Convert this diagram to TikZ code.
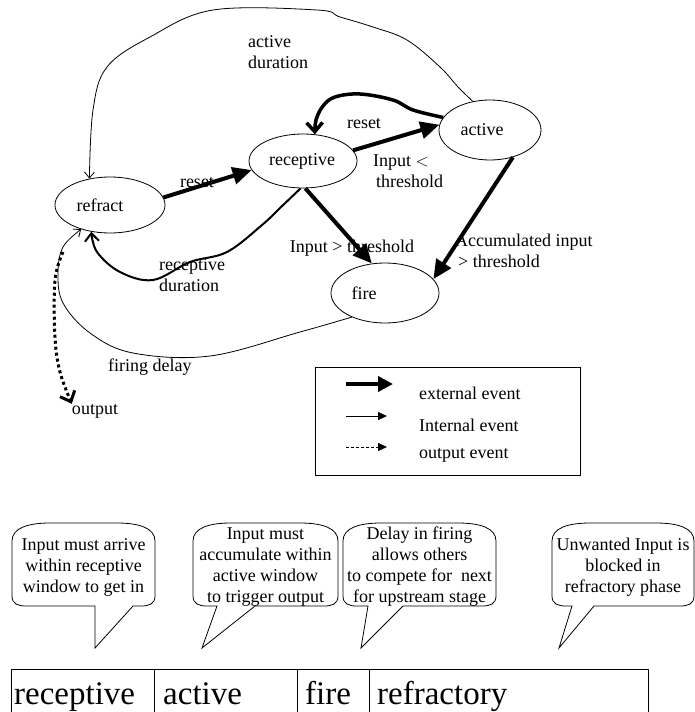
\documentclass[tikz,border=0pt]{standalone}
\usepackage{fontspec}
\setmainfont{Liberation Serif}
\usetikzlibrary{arrows.meta,shapes.geometric}

% speech bubble: left, right, top, bottom, tail base left x, tail base right x, tip x, tip y
\newcommand{\speechbubble}[8]{%
  \draw[bubbleline] (#1,#4-10) -- (#1,#3+18)
    .. controls (#1,#3+5) and (#1+16,#3) .. (#1+38,#3) -- (#2-38,#3)
    .. controls (#2-16,#3) and (#2,#3+5) .. (#2,#3+18) -- (#2,#4-10)
    .. controls (#2,#4-2) and (#2-6,#4) .. (#2-14,#4) -- (#6,#4) -- (#7,#8) -- (#5,#4)
    -- (#1+14,#4) .. controls (#1+6,#4) and (#1,#4-2) .. (#1,#4-10) -- cycle;}

\begin{document}
\begin{tikzpicture}[x=1pt,y=-1pt,
  every node/.style={font=\fontsize{18}{21}\selectfont, inner sep=0pt},
  state/.style={draw, ellipse, line width=0.8pt},
  extarrow/.style={line width=4pt, -{Triangle[length=19pt,width=17pt]}},
  backarrow/.style={line width=3.5pt, -{Straight Barb[length=9pt,width=16pt]}},
  durarrow/.style={line width=2pt, -{Straight Barb[length=8pt,width=14pt]}},
  intarrow/.style={line width=0.8pt, -{Straight Barb[length=6pt,width=10pt]}},
  outarrow/.style={line width=3pt, dash pattern=on 3pt off 3pt, -{Straight Barb[length=9pt,width=16pt]}},
  keyext/.style={line width=4pt, -{Triangle[length=15pt,width=15pt]}},
  keyint/.style={line width=1pt, -{Triangle[length=9pt,width=8pt]}},
  keyout/.style={line width=1pt, dash pattern=on 3pt off 2pt, -{Triangle[length=9pt,width=8pt]}},
  bubbleline/.style={line width=0.8pt},
  celltext/.style={font=\fontsize{33}{36}\selectfont, anchor=base west},
]
\useasboundingbox (0,0) rectangle (695,712);

% states
\node[state, minimum width=110pt, minimum height=56pt] (refract) at (110,205) {};
\node[state, minimum width=108pt, minimum height=54pt] (receptive) at (303,161) {};
\node[state, minimum width=102pt, minimum height=60pt] (active) at (490,130) {};
\node[state, minimum width=108pt, minimum height=60pt] (fire) at (385,293) {};
\node (refracttxt) at (100,205) {refract};
\node (receptivetxt) at (302,161) {receptive};
\node (activetxt) at (482,130) {active};
\node (firetxt) at (364,293) {fire};

% external events
\draw[extarrow] (refract.8) -- (receptive.190);
\draw[extarrow] (receptive.12) -- (active.174);
\draw[extarrow] (receptive.-85) -- (fire.114);
\draw[extarrow] (active.-50) -- (fire.16);
\draw[backarrow] plot[smooth, tension=0.6] coordinates
  {(active.165) (413,110) (393,100) (360,94) (335,97) (323,106) (316,120) (receptive.66)};

% internal events
\draw[durarrow] plot[smooth, tension=0.6] coordinates
  {(receptive.-95) (280,208) (262,225) (227,252) (190,262) (153,280) (120,272) (97,252) (refract.-125)};
\draw[intarrow] plot[smooth, tension=0.6] coordinates
  {(active.121) (458,87) (440,67) (407,40) (373,27) (340,17) (317,10) (213,10) (150,37) (107,67) (93,110) (refract.128)};
\draw[intarrow] plot[smooth, tension=0.6] coordinates
  {(fire.-144) (300,332) (210,356) (133,353) (90,333) (63,303) (58,273) (63,247) (refract.-140)};

% output event
\node (output) at (95,411) {output};
\coordinate (outstart) at (63,252);
\draw[outarrow] plot[smooth, tension=0.6] coordinates
  {(outstart) (55,280) (55,337) (60,372) (output.north west)};

% transition labels
\node[anchor=west, align=left] (lblactdur) at (248,52.5) {active\\duration};
\node (lblreset1) at (197,183) {reset};
\node (lblreset2) at (364,124) {reset};
\node[anchor=west, align=left] (lblbelow) at (373,171.5) {Input $<$\\\hspace*{3pt}threshold};
\node (lblabove) at (352,248) {Input > threshold};
\node[anchor=west, align=left] (lblaccum) at (455,251) {Accumulated input\\\hspace*{3pt}> threshold};
\node[anchor=west, align=left] (lblrecdur) at (159,275.5) {receptive\\duration};
\node[anchor=west] (lblfiring) at (108,367) {firing delay};

% key
\draw[line width=0.8pt] (315,367) rectangle (580,475);
\coordinate (k1a) at (346,384); \coordinate (k1b) at (393,384);
\coordinate (k2a) at (346,416); \coordinate (k2b) at (387,416);
\coordinate (k3a) at (346,447); \coordinate (k3b) at (387,447);
\draw[keyext] (k1a) -- (k1b);
\draw[keyint] (k2a) -- (k2b);
\draw[keyout] (k3a) -- (k3b);
\node[anchor=west] (keyexttxt) at (419,393) {external event};
\node[anchor=west] (keyinttxt) at (419,425) {Internal event};
\node[anchor=west] (keyouttxt) at (419,455) {output event};

% notes
\speechbubble{12}{155}{523}{606}{95}{133}{95}{648}
\speechbubble{193}{338}{523}{606}{217}{255}{202}{648}
\speechbubble{343}{496}{523}{606}{368}{403}{361}{648}
\speechbubble{552}{694}{523}{606}{572}{594}{559}{648}
\node[align=center] (note1) at (83.5,567) {Input must arrive\\within receptive\\window to get in};
\node[align=center] (note2) at (265.5,567) {Input must\\accumulate within\\active window\\to trigger output};
\node[align=center] (note3) at (419.5,567) {Delay in firing\\allows others\\to compete for\ \ next\\for upstream stage};
\node[align=center] (note4) at (623,567) {Unwanted Input is\\blocked in\\refractory phase};

% phase strip
\draw[line width=0.8pt] (11,730) -- (11,669) -- (648,669) -- (648,730);
\foreach \xv in {154,297,369} \draw[line width=0.8pt] (\xv,669) -- (\xv,730);
\node[celltext] (cellrec) at (14,704) {receptive};
\node[celltext] (cellact) at (163,704) {active};
\node[celltext] (cellfire) at (305,704) {fire};
\node[celltext] (cellref) at (377,704) {refractory};
\end{tikzpicture}
\end{document}
